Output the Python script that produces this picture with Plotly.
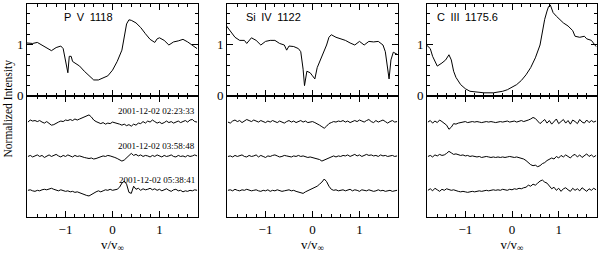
import plotly.graph_objects as go

# ---------------- data ----------------
PANEL_LABELS = ["P V 1118", "Si IV 1122", "C III 1175.6"]
TIME_LABELS = ["2001-12-02 02:23:33", "2001-12-02 03:58:48", "2001-12-02 05:38:41"]
X_TICKS = [-1, 0, 1]
X_TICK_TEXT = ["\u22121", "0", "1"]

# top panels: mean normalized line profiles
PV_V = [-1.83, -1.7, -1.6, -1.5, -1.4, -1.3, -1.2, -1.1, -1.05, -1.0, -0.95, -0.92, -0.88, -0.85,
        -0.8, -0.7, -0.6, -0.5, -0.4, -0.3, -0.2, -0.1, 0.0, 0.1, 0.2, 0.25, 0.3, 0.35, 0.4, 0.5,
        0.6, 0.7, 0.8, 0.9, 0.95, 1.0, 1.1, 1.2, 1.3, 1.4, 1.5, 1.6, 1.7, 1.8]
PV_I = [1.03, 1.02, 1.04, 0.99, 0.93, 0.88, 0.94, 0.97, 0.92, 0.64, 0.45, 0.77, 0.77, 0.67,
        0.64, 0.58, 0.48, 0.39, 0.31, 0.31, 0.35, 0.39, 0.50, 0.67, 0.89, 1.18, 1.40, 1.48, 1.47, 1.42,
        1.33, 1.21, 1.10, 1.04, 1.11, 1.13, 1.08, 0.99, 1.05, 1.07, 1.10, 1.05, 0.99, 0.92]

SI_V = [-1.83, -1.75, -1.65, -1.55, -1.45, -1.4, -1.3, -1.2, -1.1, -1.0, -0.9, -0.8, -0.7, -0.6,
        -0.55, -0.5, -0.4, -0.3, -0.25, -0.2, -0.17, -0.12, -0.05, 0.0, 0.05, 0.1, 0.2, 0.3, 0.35,
        0.4, 0.5, 0.6, 0.7, 0.8, 0.9, 1.0, 1.1, 1.2, 1.3, 1.4, 1.5, 1.55, 1.6, 1.63, 1.67, 1.72, 1.8]
SI_I = [1.36, 1.27, 1.14, 1.08, 1.08, 1.02, 1.13, 1.08, 0.99, 1.06, 1.08, 1.08, 1.02, 0.99,
        0.89, 0.97, 0.96, 0.92, 0.86, 0.52, 0.20, 0.48, 0.45, 0.39, 0.33, 0.55, 0.77, 0.99, 1.14,
        1.19, 1.14, 1.11, 1.08, 1.03, 0.99, 1.06, 0.99, 1.06, 1.05, 1.06, 0.99, 0.86, 0.55, 0.33, 0.70, 0.85, 0.81]

CIII_V = [-1.83, -1.75, -1.7, -1.6, -1.5, -1.42, -1.35, -1.3, -1.25, -1.2, -1.1, -1.0, -0.9, -0.8,
          -0.6, -0.4, -0.2, -0.1, 0.0, 0.1, 0.2, 0.3, 0.4, 0.5, 0.6, 0.65, 0.7, 0.75, 0.78, 0.82,
          0.88, 0.95, 1.0, 1.1, 1.2, 1.3, 1.35, 1.45, 1.55, 1.6, 1.7, 1.8]
CIII_I = [0.99, 0.92, 0.77, 0.58, 0.64, 0.70, 0.80, 0.70, 0.48, 0.36, 0.22, 0.14, 0.09, 0.08,
          0.06, 0.06, 0.09, 0.12, 0.17, 0.22, 0.30, 0.41, 0.55, 0.74, 0.99, 1.24, 1.49, 1.65, 1.73, 1.77,
          1.62, 1.55, 1.51, 1.42, 1.36, 1.27, 1.16, 1.14, 1.16, 1.11, 1.08, 0.96]

# bottom panels: residual spectra (hundredths), on a common velocity grid
V_GRID = [-1.80, -1.75, -1.70, -1.65, -1.60, -1.55, -1.50, -1.45, -1.40, -1.35,
          -1.30, -1.25, -1.20, -1.15, -1.10, -1.05, -1.00, -0.95, -0.90, -0.85,
          -0.80, -0.75, -0.70, -0.65, -0.60, -0.55, -0.50, -0.45, -0.40, -0.35,
          -0.30, -0.25, -0.20, -0.15, -0.10, -0.05, 0.00, 0.05, 0.10, 0.15,
          0.20, 0.25, 0.30, 0.35, 0.40, 0.45, 0.50, 0.55, 0.60, 0.65,
          0.70, 0.75, 0.80, 0.85, 0.90, 0.95, 1.00, 1.05, 1.10, 1.15,
          1.20, 1.25, 1.30, 1.35, 1.40, 1.45, 1.50, 1.55, 1.60, 1.65,
          1.70, 1.75, 1.80]

PV_RES1 = [0, 4, 2, 3, 1, 3, 0, -2, 1, -3,
           -6, -5, -2, 0, 2, 1, 4, 3, 5, 3,
           6, 4, 6, 8, 9, 12, 14, 10, 4, 1,
           -1, -3, -1, -4, -2, -3, 0, -1, -3, -4,
           -6, -4, -7, -5, -8, -4, -6, -2, -3, 1,
           -2, 2, 0, 4, 1, -2, 0, -3, -1, 2,
           -1, 1, -2, 0, 2, -1, 1, 3, 0, 4,
           5, 1, 0]
PV_RES2 = [0, 2, -1, 1, 3, 0, 2, -2, 1, 3,
           0, 2, 4, 1, -1, 2, 0, 3, 1, -1,
           2, 0, 1, -1, -2, -3, -4, -3, -5, -4,
           -2, -1, 1, 0, 2, 1, 0, -2, -4, -6,
           -9, -7, -2, 3, 6, 2, 4, 1, 3, 0,
           2, 1, -1, 2, 0, 3, 1, -1, 2, 0,
           1, 3, 0, -1, 2, 0, 1, -1, 2, 0,
           1, 3, 1]
PV_RES3 = [0, 1, -1, -2, 0, -1, 1, 2, 1, 3,
           4, 2, 0, -1, 1, -1, -2, -1, -3, -2,
           -4, -3, -5, -7, -8, -10, -11, -8, -5, -3,
           -1, -3, -1, 1, 0, 2, 0, 1, 2, 6,
           14, 18, 12, -4, -6, 8, 2, 4, 0, 3,
           1, 2, 4, 1, 3, 0, 2, -1, 1, 3,
           0, -2, 1, 2, -1, 0, -3, -1, -2, 0,
           -1, 1, 0]

SI_RES1 = [0, -2, 2, 4, 1, 3, -1, 2, 5, 3,
           1, 4, 2, 0, 3, 1, -1, 2, 0, 3,
           1, -1, 2, 0, -2, 1, 3, 0, 2, -1,
           1, 3, 0, 2, -1, 0, 1, -1, -3, -6,
           -9, -12, -8, -3, -1, 1, 0, 2, 1, 3,
           0, 2, -1, 1, 3, 1, 4, 2, 0, 3,
           5, 1, -1, 3, 0, 2, 4, 1, -2, 1,
           3, 0, 1]
SI_RES2 = [0, 1, -1, 2, 0, 1, 3, 0, -1, 2,
           0, 1, 3, -1, 2, 0, -2, 1, 0, 2,
           3, 1, -1, 0, 2, 1, 0, -1, 1, 0,
           2, 0, 1, -1, -2, -1, -2, -3, -4, -6,
           -9, -7, -5, -2, 0, 1, -1, 1, 0, 2,
           1, 3, 0, 2, 4, 1, 3, 0, 2, 4,
           2, 3, 1, 2, 0, 3, 1, 2, 0, 1,
           2, 0, 1]
SI_RES3 = [0, 1, -1, 2, 0, -1, 1, 0, 2, 1,
           -1, 0, 1, -1, -2, 0, -1, 1, -2, 0,
           -1, 1, 0, -2, -1, 0, 1, -1, 0, -2,
           -3, -5, -6, -3, -1, 1, 3, 5, 8, 12,
           16, 22, 17, 8, 2, 0, 1, -1, 0, 1,
           -1, 0, 2, -1, 1, 0, -2, 1, 0, -1,
           1, 0, -2, -1, 1, -1, 0, -2, -1, 0,
           -2, -1, 0]

CIII_RES1 = [0, 3, -2, 2, -1, 4, 1, -2, -6, -14,
             -10, -3, -4, -2, -1, 0, 1, -1, 0, 1,
             0, 1, 0, -1, 0, 1, 0, 1, 0, -1,
             0, 1, 0, 1, 2, 0, 1, 2, 0, 2,
             3, 1, 2, 4, 6, 9, 7, 2, -3, 1,
             5, -2, 3, -4, 2, 6, -3, 1, 5, -2,
             3, -4, 4, 1, -3, 5, 0, -2, 4, -1,
             3, 0, 2]
CIII_RES2 = [0, 2, -1, 3, 1, 4, 2, 3, 6, 10,
             7, 4, 5, 3, 2, 3, 1, 2, 0, 1,
             0, -1, 0, -2, -1, 0, -1, -2, -1, -2,
             -1, -2, -1, -2, -1, 0, -1, -2, -1, -2,
             -3, -5, -8, -12, -16, -18, -17, -20, -18, -14,
             -12, -8, -6, -3, -5, 0, -3, 2, -1, 3,
             0, -3, 2, 4, -1, 3, -2, 1, 5, 0,
             3, -1, 2]
CIII_RES3 = [0, 3, -1, 4, 1, -2, 2, 0, 3, 1,
             0, 1, -1, -2, -3, -2, -3, -4, -3, -2,
             -3, -2, -1, -2, -1, 0, -1, 0, 1, 0,
             1, 0, 2, 1, 0, 2, 1, 3, 2, 4,
             3, 5, 6, 10, 8, 12, 10, 14, 18, 20,
             16, 14, 8, 3, 6, 0, 4, -2, 3, 5,
             1, -2, 4, 0, 3, -1, 5, 1, -2, 3,
             0, 4, 1]

RESIDUAL_OFFSETS = [1.85, 1.18, 0.52]
LABEL_Y = [2.06, 1.38, 0.72]

TOP = [(PV_V, PV_I), (SI_V, SI_I), (CIII_V, CIII_I)]
BOTTOM = [[PV_RES1, PV_RES2, PV_RES3],
          [SI_RES1, SI_RES2, SI_RES3],
          [CIII_RES1, CIII_RES2, CIII_RES3]]

# ---------------- figure ----------------
W, H = 600, 256
FONT = "Liberation Serif"
x_px = [(27, 198), (227, 398), (427, 597)]
top_dom = [(256 - 99) / H, (256 - 4) / H]
bot_dom = [(256 - 224) / H, (256 - 99) / H]
XR = [-1.82, 1.82]

fig = go.Figure()
layout = dict(width=W, height=H, margin=dict(l=0, r=0, t=0, b=0),
              paper_bgcolor="white", plot_bgcolor="white", showlegend=False,
              font=dict(family=FONT, size=13, color="black"))
annotations = []

line_style = dict(color="black", width=1)

for p in range(3):
    xd = [x_px[p][0] / W, x_px[p][1] / W]
    it = p + 1          # top axes index
    ib = p + 4          # bottom axes index
    xs = "" if it == 1 else str(it)
    common_x = dict(domain=xd, range=XR, showgrid=False, zeroline=False,
                    showline=True, linecolor="black", linewidth=1, mirror="allticks",
                    ticks="inside", ticklen=6, tickcolor="black", tickwidth=1,
                    tickvals=X_TICKS, ticktext=X_TICK_TEXT,
                    minor=dict(dtick=0.2, tick0=0, ticks="inside", ticklen=3,
                               tickcolor="black", tickwidth=1, showgrid=False))
    layout["xaxis" + xs] = dict(common_x, anchor="y" + xs, showticklabels=False)
    layout["yaxis" + xs] = dict(domain=top_dom, range=[0, 1.79], anchor="x" + xs,
                                showgrid=False, zeroline=False, showline=True,
                                linecolor="black", linewidth=1, mirror="allticks",
                                ticks="inside", ticklen=6, tickcolor="black",
                                tickvals=[0, 1], ticktext=["0", "1"],
                                tickfont=dict(family=FONT, size=13),
                                minor=dict(dtick=0.2, tick0=0, ticks="inside", ticklen=3,
                                           tickcolor="black", showgrid=False))
    layout["xaxis" + str(ib)] = dict(common_x, anchor="y" + str(ib), showticklabels=True,
                                     tickfont=dict(family=FONT, size=13),
                                     title=dict(text="v/v<sub>\u221e</sub>",
                                                font=dict(family=FONT, size=13), standoff=1))
    layout["yaxis" + str(ib)] = dict(domain=bot_dom, range=[0, 2.36], anchor="x" + str(ib),
                                     showgrid=False, zeroline=False, showline=True,
                                     linecolor="black", linewidth=1, mirror=True,
                                     ticks="", showticklabels=False)

    v, inten = TOP[p]
    fig.add_trace(go.Scatter(x=v, y=inten, mode="lines", line=line_style,
                             xaxis="x" + xs, yaxis="y" + xs, hoverinfo="skip"))
    for k in range(3):
        yvals = [RESIDUAL_OFFSETS[k] + r / 100 for r in BOTTOM[p][k]]
        fig.add_trace(go.Scatter(x=V_GRID, y=yvals, mode="lines", line=line_style,
                                 xaxis="x" + str(ib), yaxis="y" + str(ib), hoverinfo="skip"))

    # panel labels
    label_off = [35, 17, 8][p]
    annotations.append(dict(text=PANEL_LABELS[p].replace(" ", "\u2002"), xref="paper", yref="paper",
                            x=(x_px[p][0] + label_off) / W, y=(256 - 18) / H,
                            xanchor="left", yanchor="middle", showarrow=False,
                            font=dict(family="Liberation Sans", size=11, color="black")))

# time labels in first bottom panel
for k in range(3):
    annotations.append(dict(text=TIME_LABELS[k], xref="x4", yref="y4",
                            x=1.80, y=LABEL_Y[k], xanchor="right", yanchor="middle",
                            showarrow=False, font=dict(family=FONT, size=9, color="black")))

annotations.append(dict(text="Normalized Intensity", xref="paper", yref="paper",
                        x=8 / W, y=(256 - 112) / H, textangle=-90, showarrow=False,
                        xanchor="center", yanchor="middle",
                        font=dict(family=FONT, size=11.5, color="black")))

layout["annotations"] = annotations
fig.update_layout(**layout)
fig.write_html("out.html", config={"displayModeBar": False},
               post_script="document.body.style.margin='0';document.body.style.overflow='hidden';")
